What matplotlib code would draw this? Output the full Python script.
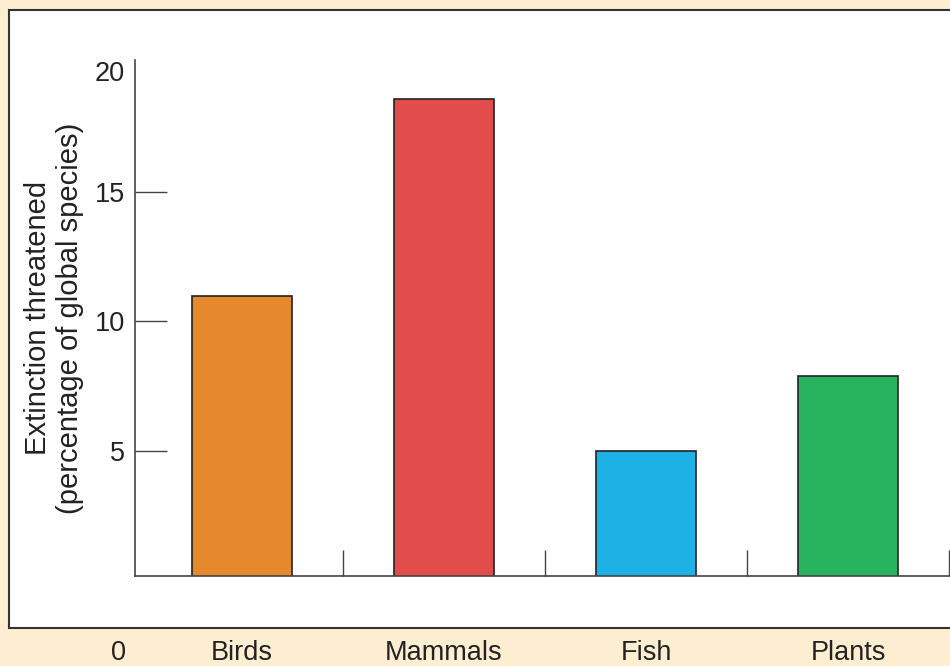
import numpy as np
import matplotlib
matplotlib.use("Agg")
import matplotlib.pyplot as plt
from matplotlib.patches import Rectangle


# ----------------------------
# data
# ----------------------------

categories = ["Birds", "Mammals", "Fish", "Plants"]
threatened = [11.0, 18.6, 5.0, 7.9]
bar_colors = ["#E5892C", "#E24D4C", "#1EB1E6", "#28B35F"]
y_ticks = [5, 10, 15, 20]

BG = "#FDEDD1"
INK = "#222222"
AXIS = "#444444"
FS = 19.5

plt.rcParams["font.family"] = ["Liberation Sans", "DejaVu Sans"]


def main():
    fig = plt.figure(figsize=(9.5, 6.66), dpi=100, facecolor=BG)

    # white inset panel with dark border (behind the axes)
    panel = Rectangle((9 / 950, 38 / 666), 1.2, 618 / 666, transform=fig.transFigure,
                      facecolor="white", edgecolor="#333333", linewidth=1.5, zorder=-10)
    fig.patches.append(panel)

    ax = fig.add_axes([135 / 950, 90 / 666, 815 / 950, 516 / 666])
    ax.patch.set_alpha(0)

    x = np.arange(len(categories))
    ax.bar(x, threatened, width=0.495, color=bar_colors, edgecolor="#222222",
           linewidth=1.2, zorder=2)

    ax.set_xlim(-0.53, 3.505)
    ax.set_ylim(0.17, 20.1)

    for side in ["top", "right"]:
        ax.spines[side].set_visible(False)
    for side in ["left", "bottom"]:
        ax.spines[side].set_color(AXIS)
        ax.spines[side].set_linewidth(1.2)
    ax.spines["left"].set_bounds(0.17, 20.1)

    # y ticks point inward, no tick mark at 20
    ax.set_yticks(y_ticks[:-1])
    ax.set_yticklabels([str(v) for v in y_ticks[:-1]])
    ax.tick_params(axis="y", direction="in", length=23, width=1.0, color=AXIS,
                   pad=7, labelsize=FS, labelcolor=INK)
    ax.text(-0.012, 19.55, str(y_ticks[-1]), transform=ax.get_yaxis_transform(),
            ha="right", va="center", fontsize=FS, color=INK)

    # category labels sit below the panel; dividers as minor ticks
    ax.set_xticks(x)
    ax.set_xticklabels(categories)
    ax.tick_params(axis="x", which="major", length=0, pad=46, labelsize=FS, labelcolor=INK)
    ax.set_xticks(x + 0.5, minor=True)
    ax.tick_params(axis="x", which="minor", direction="in", length=19, width=1.0, color=AXIS)

    fig.text(118 / 950, 1 - 653 / 666, "0", ha="center", va="center", fontsize=FS, color=INK)

    ax.set_ylabel("Extinction threatened\n(percentage of global species)",
                  fontsize=21, color=INK, labelpad=8, linespacing=1.2)

    fig.savefig("out.png", dpi=100, facecolor=BG)


if __name__ == "__main__":
    main()
